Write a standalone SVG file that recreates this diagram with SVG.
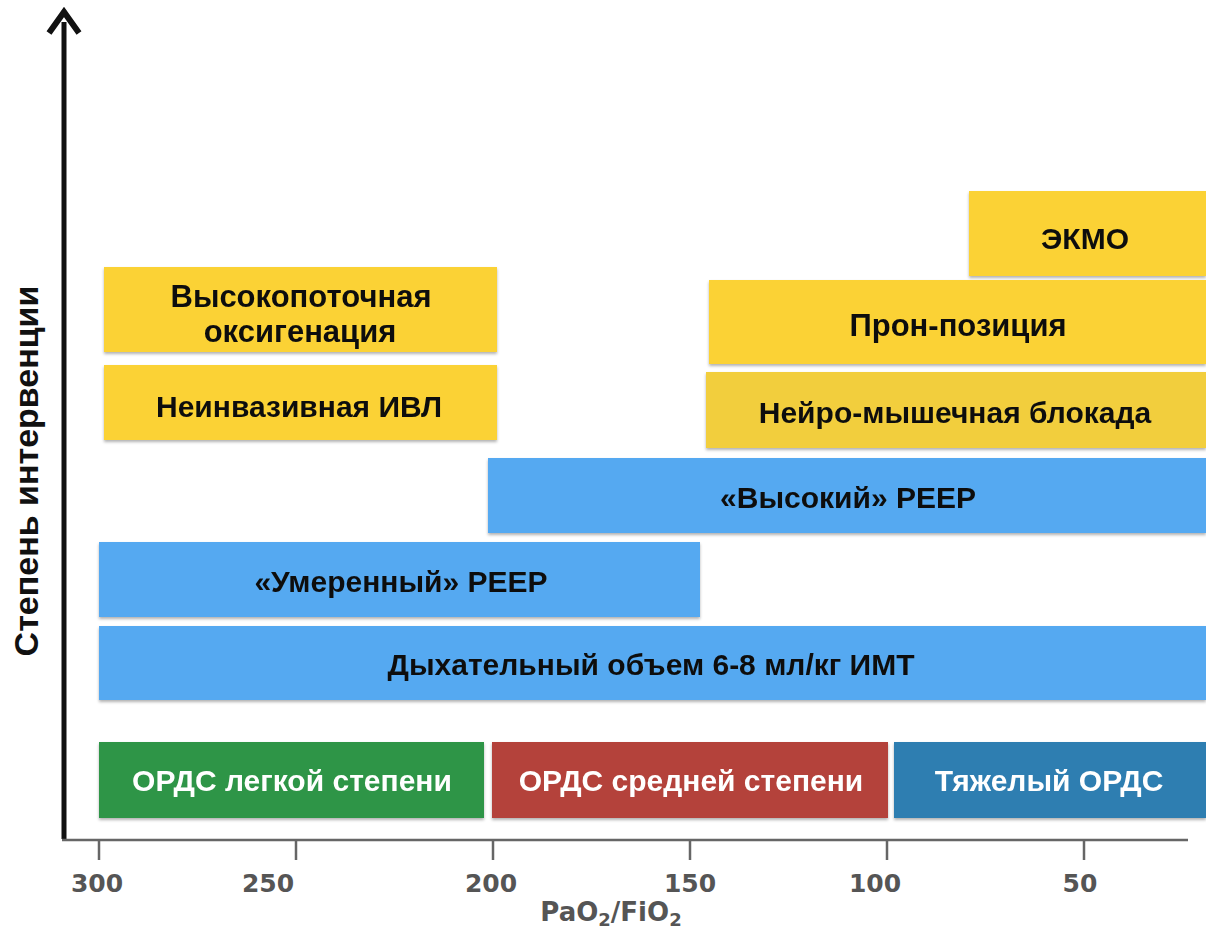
<svg xmlns="http://www.w3.org/2000/svg" width="1206" height="930" viewBox="0 0 1206 930">
<style>
.lbl{font-family:"Liberation Sans",Arial,sans-serif;font-weight:bold;text-anchor:middle;dominant-baseline:central}
.dark{fill:#111}
.white{fill:#fff}
.tick{font-family:"DejaVu Sans",Verdana,sans-serif;font-weight:bold;font-size:25px;fill:#555;text-anchor:middle}
.yel{fill:#fbd234}
.yel2{fill:#f2ce3e}
.lb{fill:#55a9f1}
</style>
<defs>
<filter id="sh" x="-5%" y="-10%" width="110%" height="130%">
<feDropShadow dx="0" dy="2" stdDeviation="1.5" flood-color="#000" flood-opacity="0.3"/>
</filter>
</defs>
<g id="axes">
<line x1="64" y1="839" x2="64" y2="22" stroke="#111" stroke-width="5"/>
<path d="M49 33 L64 12 L79 33" fill="none" stroke="#111" stroke-width="6" stroke-linejoin="miter"/>
<line x1="62" y1="840" x2="1188" y2="840" stroke="#666" stroke-width="2.5"/>
<g stroke="#666" stroke-width="2.5">
<line x1="99" y1="840" x2="99" y2="860"/>
<line x1="296" y1="840" x2="296" y2="860"/>
<line x1="493" y1="840" x2="493" y2="860"/>
<line x1="690" y1="840" x2="690" y2="860"/>
<line x1="887" y1="840" x2="887" y2="860"/>
<line x1="1084" y1="840" x2="1084" y2="860"/>
</g>
<text class="tick" x="97" y="892">300</text>
<text class="tick" x="268" y="892">250</text>
<text class="tick" x="491" y="892">200</text>
<text class="tick" x="690" y="892">150</text>
<text class="tick" x="875" y="892">100</text>
<text class="tick" x="1080" y="892">50</text>
<text class="tick" x="611" y="921" style="font-size:26px">PaO<tspan dy="5" style="font-size:18px">2</tspan><tspan dy="-5">/FiO</tspan><tspan dy="5" style="font-size:18px">2</tspan></text>
<text class="lbl dark" transform="translate(26,471) rotate(-90)" style="font-size:34px">Степень интервенции</text>
</g>
<g id="n-light" filter="url(#sh)"><rect x="99" y="742" width="385" height="76" fill="#2f9546"/><text class="lbl white" x="292" y="780" style="font-size:30px">ОРДС легкой степени</text></g>
<g id="n-moderate" filter="url(#sh)"><rect x="492" y="742" width="396" height="76" fill="#b4423a"/><text class="lbl white" x="691" y="780" style="font-size:30px">ОРДС средней степени</text></g>
<g id="n-severe" filter="url(#sh)"><rect x="894" y="742" width="312" height="76" fill="#2f7eb1"/><text class="lbl white" x="1049" y="780" style="font-size:30px">Тяжелый ОРДС</text></g>
<g id="n-tidal" filter="url(#sh)"><rect class="lb" x="99" y="626" width="1107" height="74"/><text class="lbl dark" x="651" y="664" style="font-size:30px">Дыхательный объем 6-8 мл/кг ИМТ</text></g>
<g id="n-peep-mod" filter="url(#sh)"><rect class="lb" x="99" y="542" width="601" height="75"/><text class="lbl dark" x="401" y="581" style="font-size:30px">«Умеренный» PEEP</text></g>
<g id="n-peep-high" filter="url(#sh)"><rect class="lb" x="488" y="458" width="718" height="75"/><text class="lbl dark" x="848" y="497" style="font-size:30px">«Высокий» PEEP</text></g>
<g id="n-hfo" filter="url(#sh)"><rect class="yel" x="104" y="267" width="393" height="85"/><text class="lbl dark" x="301" y="296" style="font-size:31px">Высокопоточная</text><text class="lbl dark" x="300" y="331" style="font-size:31px">оксигенация</text></g>
<g id="n-niv" filter="url(#sh)"><rect class="yel" x="104" y="365" width="393" height="75"/><text class="lbl dark" x="299" y="406" style="font-size:30px">Неинвазивная ИВЛ</text></g>
<g id="n-ecmo" filter="url(#sh)"><rect class="yel" x="969" y="191" width="237" height="85"/><text class="lbl dark" x="1085" y="238" style="font-size:30px">ЭКМО</text></g>
<g id="n-prone" filter="url(#sh)"><rect class="yel" x="709" y="280" width="497" height="84"/><text class="lbl dark" x="958" y="325" style="font-size:31px">Прон-позиция</text></g>
<g id="n-nmb" filter="url(#sh)"><rect class="yel2" x="706" y="372" width="500" height="76"/><text class="lbl dark" x="955" y="412" style="font-size:30px">Нейро-мышечная блокада</text></g>
<g id="connectors"></g>
</svg>
